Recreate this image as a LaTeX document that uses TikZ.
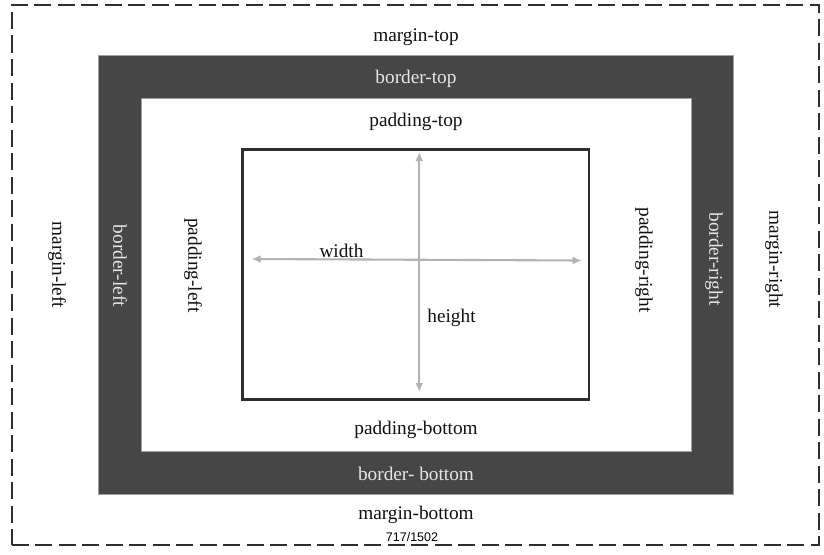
\documentclass[tikz,border=0pt]{standalone}
\usepackage{fontspec}
\setmainfont{Liberation Serif}
\newfontfamily\numfont{Liberation Sans}
\usetikzlibrary{arrows.meta}
\definecolor{bandgray}{HTML}{464646}
\definecolor{bandedge}{HTML}{A0A0A0}
\definecolor{arrowgray}{HTML}{B2B2B2}
\definecolor{linedark}{HTML}{2E2E2E}
\definecolor{bandtext}{HTML}{E6E6E6}
\definecolor{inktext}{HTML}{111111}
\begin{document}
\begin{tikzpicture}[x=1pt,y=-1pt,
  boxshape/.style={rectangle,inner sep=0pt,outer sep=0pt},
  marginbox/.style={boxshape,draw=linedark,line width=2pt,dash pattern=on 17pt off 6.5pt},
  borderbox/.style={boxshape,fill=bandgray,draw=bandedge,line width=0.8pt},
  paddingbox/.style={boxshape,fill=white,draw=bandedge,line width=0.8pt},
  contentbox/.style={boxshape,draw=linedark,line width=2.2pt},
  dimarrow/.style={draw=arrowgray,line width=2.1pt,{Latex[length=9pt,width=8pt]}-{Latex[length=9pt,width=8pt]}},
  lbl/.style={inner sep=0pt,font=\fontsize{19.3}{23}\selectfont,text=inktext},
  bandlbl/.style={lbl,text=bandtext},
  vlbl/.style={lbl,rotate=-90},
  vbandlbl/.style={bandlbl,rotate=-90},
  pagelbl/.style={inner sep=0pt,font=\numfont\fontsize{12.5}{14}\selectfont,text=black}
]
\useasboundingbox (0,0) rectangle (824,554);
\fill[white] (0,0) rectangle (824,554);

\node[marginbox,minimum width=807pt,minimum height=540.5pt] (margin) at (415,274.75) {};
\node[borderbox,minimum width=634.5pt,minimum height=438.5pt] (border) at (415.75,274.75) {};
\node[paddingbox,minimum width=549.5pt,minimum height=353.5pt] (padding) at (416.25,274.75) {};
\node[contentbox,minimum width=346.5pt,minimum height=250pt] (content) at (415.75,274.5) {};

\coordinate (wl) at (251.7,259);
\coordinate (wr) at (581.7,260.5);
\coordinate (ht) at (419.3,152);
\coordinate (hb) at (419.3,392);
\draw[dimarrow] (wl) -- (wr);
\draw[dimarrow] (ht) -- (hb);

\node[lbl] (wlabel) at (341.5,251) {width};
\node[lbl] (hlabel) at (451.5,317.5) {height};

\node[lbl] (mtop) at (416,37) {margin-top};
\node[bandlbl] (btop) at (416,79) {border-top};
\node[lbl] (ptop) at (416,122) {padding-top};
\node[lbl] (pbot) at (416,429.5) {padding-bottom};
\node[bandlbl] (bbot) at (416,474) {border- bottom};
\node[lbl] (mbot) at (416,515) {margin-bottom};
\node[pagelbl] (page) at (412,537) {717/1502};

\node[vlbl] (mleft) at (57,265) {margin-left};
\node[vbandlbl] (bleft) at (120,266) {border-left};
\node[vlbl] (pleft) at (193,265.5) {padding-left};
\node[vlbl] (pright) at (644,260) {padding-right};
\node[vbandlbl] (bright) at (714,259) {border-right};
\node[vlbl] (mright) at (774,259.5) {margin-right};
\end{tikzpicture}
\end{document}
